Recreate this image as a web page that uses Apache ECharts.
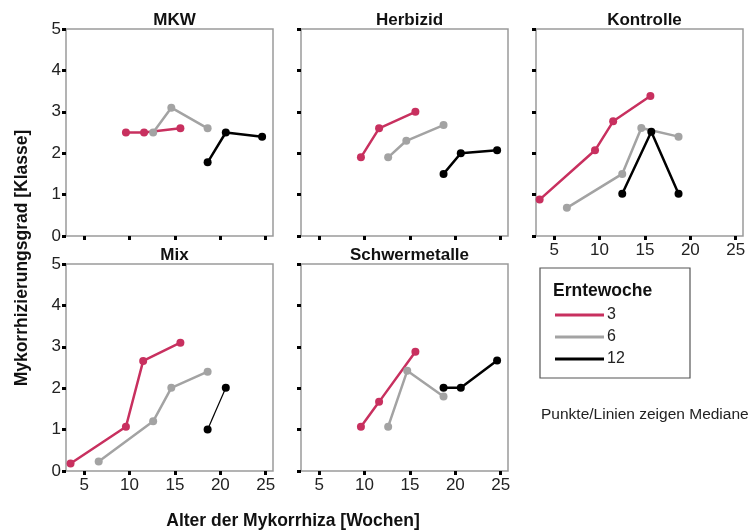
<!DOCTYPE html>
<html>
<head>
<meta charset="utf-8">
<script src="https://cdn.jsdelivr.net/npm/echarts@6/dist/echarts.min.js"></script>
<style>
  html, body { margin: 0; padding: 0; background: #fff; }
  #chart { width: 753px; height: 531px; }
</style>
</head>
<body>
<div id="chart"></div>
<script>
// Panel names (treatments)
const panels = ['MKW', 'Herbizid', 'Kontrolle', 'Mix', 'Schwermetalle'];
// Harvest weeks (legend entries)
const weeks = ['3', '6', '12'];
const weekColors = ['#c8305f', '#a3a3a3', '#000000'];

// Medians: [age in weeks, mycorrhization class]
const mkwW3 = [[9.6, 2.5], [11.6, 2.5], [15.6, 2.6]];
const mkwW6 = [[12.6, 2.5], [14.6, 3.1], [18.6, 2.6]];
const mkwW12 = [[18.6, 1.78], [20.6, 2.5], [24.6, 2.4]];

const herbW3 = [[9.6, 1.9], [11.6, 2.6], [15.6, 3.0]];
const herbW6 = [[12.6, 1.9], [14.6, 2.3], [18.7, 2.68]];
const herbW12 = [[18.7, 1.5], [20.6, 2.0], [24.6, 2.07]];

const kontW3 = [[3.4, 0.88], [9.5, 2.07], [11.5, 2.77], [15.6, 3.38]];
const kontW6 = [[6.4, 0.68], [12.5, 1.5], [14.6, 2.61], [18.7, 2.4]];
const kontW12 = [[12.5, 1.02], [15.7, 2.52], [18.7, 1.02]];

const mixW3 = [[3.5, 0.18], [9.6, 1.07], [11.5, 2.66], [15.6, 3.1]];
const mixW6 = [[6.6, 0.23], [12.6, 1.2], [14.6, 2.01], [18.6, 2.4]];
const mixW12 = [[18.6, 1.0], [20.6, 2.01]];

const schwW3 = [[9.6, 1.07], [11.6, 1.67], [15.6, 2.88]];
const schwW6 = [[12.6, 1.07], [14.7, 2.42], [18.7, 1.8]];
const schwW12 = [[18.7, 2.01], [20.6, 2.01], [24.6, 2.67]];

const panelData = [
  [mkwW3, mkwW6, mkwW12],
  [herbW3, herbW6, herbW12],
  [kontW3, kontW6, kontW12],
  [mixW3, mixW6, mixW12],
  [schwW3, schwW6, schwW12]
];

// Axis ticks
const xTicks = [5, 10, 15, 20, 25];

const FONT = '"Liberation Sans", Arial, Helvetica, sans-serif';

// Grid layout: 3 columns x 2 rows
const colLeft = [66, 301, 536];
const rowTop = [29, 264];
const size = 207;
const gridPos = [[0, 0], [1, 0], [2, 0], [0, 1], [1, 1]];
// which panels show tick labels
const showYLabels = [true, false, false, true, false];
const showXLabels = [false, false, true, true, true];

const grids = [], xAxes = [], yAxes = [], series = [], titles = [];

gridPos.forEach(([c, r], i) => {
  grids.push({
    left: colLeft[c], top: rowTop[r], width: size, height: size,
    show: true, borderColor: '#9a9a9a', borderWidth: 1.5, backgroundColor: '#fff'
  });
  xAxes.push({
    gridIndex: i, type: 'value', min: 3, max: 25.8,
    axisLine: { show: false },
    splitLine: { show: false },
    axisTick: { show: true, customValues: xTicks, length: 4, lineStyle: { color: '#000', width: 3 } },
    axisLabel: { show: showXLabels[i], customValues: xTicks, color: '#222', fontSize: 17, fontFamily: FONT, margin: 6 }
  });
  yAxes.push({
    gridIndex: i, type: 'value', min: 0, max: 5, interval: 1,
    axisLine: { show: false },
    splitLine: { show: false },
    axisTick: { show: true, length: 4, lineStyle: { color: '#000', width: 3 } },
    axisLabel: { show: showYLabels[i], color: '#222', fontSize: 17, fontFamily: FONT, margin: 5 }
  });
  titles.push({
    text: panels[i],
    left: colLeft[c] + size / 2, top: rowTop[r] - 22,
    textAlign: 'center',
    textStyle: { fontSize: 17, fontWeight: 'bold', color: '#111', fontFamily: FONT }
  });
  panelData[i].forEach((pts, w) => {
    series.push({
      name: weeks[w], type: 'line', xAxisIndex: i, yAxisIndex: i,
      data: pts,
      symbol: 'circle', symbolSize: 8,
      itemStyle: { color: weekColors[w] },
      lineStyle: { color: weekColors[w], width: (i === 3 && w === 2) ? 1.2 : 2.5 },
      z: 3 + w,
      animation: false
    });
  });
});

const chart = echarts.init(document.getElementById('chart'), null, { renderer: 'canvas' });
chart.setOption({
  animation: false,
  backgroundColor: '#fff',
  title: titles,
  grid: grids,
  xAxis: xAxes,
  yAxis: yAxes,
  series: series,
  legend: {
    data: weeks,
    orient: 'vertical',
    left: 550, top: 302,
    icon: 'rect', itemWidth: 49, itemHeight: 3, itemGap: 6,
    textStyle: { fontSize: 16, color: '#222', fontFamily: FONT, padding: [0, 0, 0, -2] },
    selectedMode: false
  },
  graphic: [
    {
      type: 'rect', shape: { x: 540, y: 268, width: 150, height: 110 },
      style: { fill: 'none', stroke: '#555', lineWidth: 1.2 }, z: 0
    },
    {
      type: 'text', x: 553, y: 291,
      style: { text: 'Erntewoche', font: 'bold 17.5px ' + FONT, fill: '#111', textVerticalAlign: 'middle' }
    },
    {
      type: 'text', x: 541, y: 415,
      style: { text: 'Punkte/Linien zeigen Mediane', font: '15.5px ' + FONT, fill: '#222', textVerticalAlign: 'middle' }
    },
    {
      type: 'text', x: 22, y: 258, rotation: Math.PI / 2,
      style: { text: 'Mykorrhizierungsgrad [Klasse]', font: 'bold 17.5px ' + FONT, fill: '#111', textAlign: 'center', textVerticalAlign: 'middle' }
    },
    {
      type: 'text', x: 293, y: 521,
      style: { text: 'Alter der Mykorrhiza [Wochen]', font: 'bold 17.5px ' + FONT, fill: '#111', textAlign: 'center', textVerticalAlign: 'middle' }
    }
  ]
});
</script>
</body>
</html>
